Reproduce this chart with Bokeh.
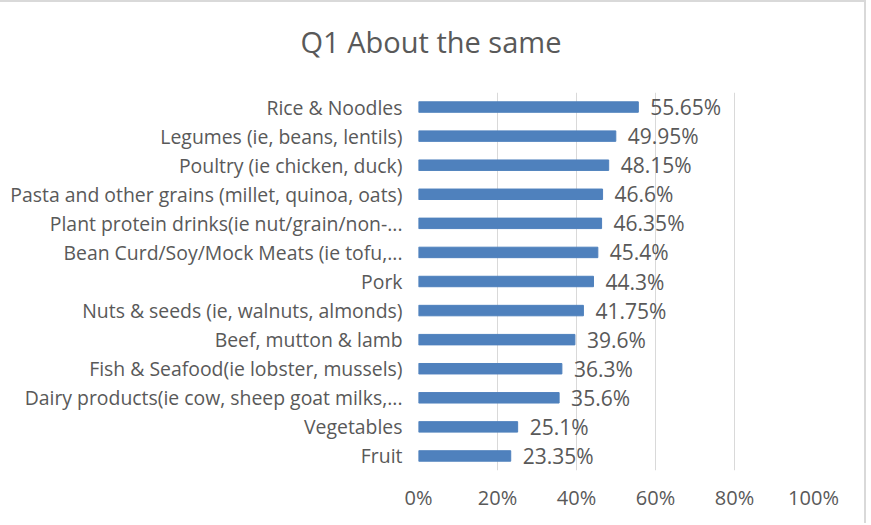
from bokeh.plotting import figure
from bokeh.models import Range1d, FixedTicker, NumeralTickFormatter, ColumnDataSource, Div, Column
from bokeh.core.properties import value
from bokeh.embed import file_html
from bokeh.resources import INLINE

categories = [
    "Rice & Noodles",
    "Legumes (ie, beans, lentils)",
    "Poultry (ie chicken, duck)",
    "Pasta and other grains (millet, quinoa, oats)",
    "Plant protein drinks(ie nut/grain/non-...",
    "Bean Curd/Soy/Mock Meats (ie tofu,...",
    "Pork",
    "Nuts & seeds (ie, walnuts, almonds)",
    "Beef, mutton & lamb",
    "Fish & Seafood(ie lobster, mussels)",
    "Dairy products(ie cow, sheep goat milks,...",
    "Vegetables",
    "Fruit",
]
values_pct = [55.65, 49.95, 48.15, 46.6, 46.35, 45.4, 44.3, 41.75, 39.6, 36.3, 35.6, 25.1, 23.35]
x_ticks = [0, 0.2, 0.4, 0.6, 0.8, 1.0]
title_text = "Q1 About the same"

FONT = "Open Sans"
GREY = "#595959"
BAR = "#4F81BD"

W = 866
TOP = 90          # title area height (below the 2px border)
FRAME_BOTTOM = 470
H = 525 - 2 - TOP

src = ColumnDataSource(dict(
    cat=categories,
    v=[x / 100 for x in values_pct],
    lab=[f"{x:g}%" for x in values_pct],
))

p = figure(
    width=W, height=H, output_backend="svg", toolbar_location=None,
    y_range=list(reversed(categories)), x_range=Range1d(0, 1),
    min_border_left=418, min_border_right=W - 815,
    min_border_top=0, min_border_bottom=525 - FRAME_BOTTOM,
)
p.outline_line_color = None
p.background_fill_color = "white"
p.border_fill_color = "white"

p.hbar(y="cat", right="v", left=0, height=0.36, color=BAR, source=src)
p.text(x="v", y="cat", text="lab", source=src, x_offset=12,
       text_baseline="middle", text_align="left",
       text_font=value(FONT), text_font_size="21px", text_color=GREY)

p.xaxis.ticker = FixedTicker(ticks=x_ticks)
p.xaxis.formatter = NumeralTickFormatter(format="0%")
p.xaxis.axis_line_color = None
p.xaxis.major_tick_line_color = None
p.xaxis.minor_tick_line_color = None
p.xaxis.major_tick_out = 0
p.xaxis.major_label_standoff = 13
p.xaxis.major_label_text_font = FONT
p.xaxis.major_label_text_font_size = "20px"
p.xaxis.major_label_text_color = GREY

p.yaxis.axis_line_color = None
p.yaxis.major_tick_line_color = None
p.yaxis.major_tick_out = 0
p.yaxis.major_label_standoff = 16
p.yaxis.major_label_text_font = FONT
p.yaxis.major_label_text_font_size = "19.4px"
p.yaxis.major_label_text_color = GREY

p.xgrid.grid_line_color = "#d9d9d9"
p.ygrid.grid_line_color = None

title = Div(
    text=(f"<div style=\"width:862px;text-align:center;font-family:'Open Sans';"
          f"font-size:29px;color:{GREY};line-height:38px;margin-top:21px\">{title_text}</div>"),
    width=W, height=TOP, margin=(0, 0, 0, 0),
)

layout = Column(title, p, width=W, height=525 - 2, spacing=0,
                styles={"border-top": "2px solid #d9d9d9", "border-right": "2px solid #d9d9d9",
                        "background-color": "white"})

open("out.html", "w").write(file_html(layout, INLINE))
